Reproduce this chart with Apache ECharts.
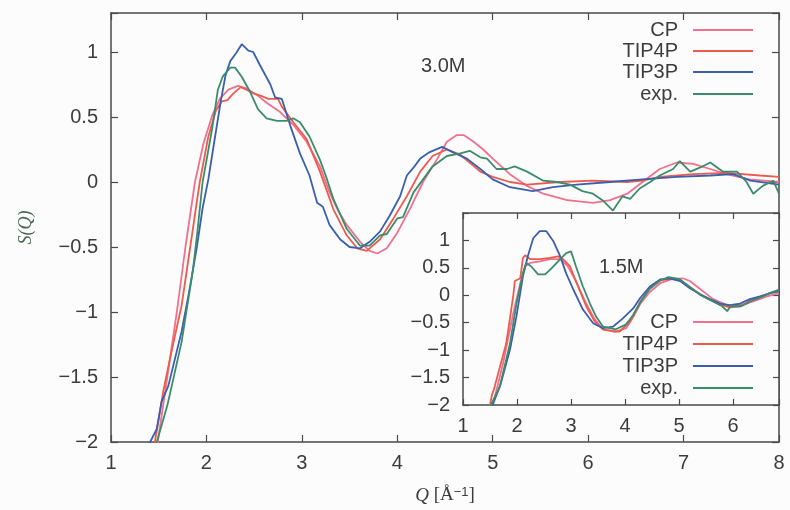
<!DOCTYPE html>
<html>
<head>
<meta charset="utf-8">
<script src="https://cdn.jsdelivr.net/npm/echarts@6/dist/echarts.min.js"></script>
<style>
  html, body { margin: 0; padding: 0; background: #fcfcfc; }
</style>
</head>
<body>
<div id="myChart" style="width:790px;height:510px"></div>
<script>
// S(Q), [Q, S]
// 3.0M (main panel)
const cp30 = [[1.44,-2.2],[1.49,-2.0],[1.59,-1.5],[1.69,-1.0],[1.78,-0.5],[1.88,0.0],[1.97,0.3],[2.06,0.51],[2.14,0.64],[2.23,0.71],[2.33,0.74],[2.42,0.72],[2.53,0.67],[2.63,0.61],[2.77,0.54],[2.91,0.44],[3.05,0.31],[3.19,0.12],[3.29,-0.08],[3.38,-0.22],[3.47,-0.33],[3.61,-0.46],[3.71,-0.53],[3.79,-0.55],[3.89,-0.51],[4.0,-0.39],[4.13,-0.21],[4.27,0.0],[4.42,0.18],[4.52,0.31],[4.62,0.36],[4.70,0.36],[4.80,0.31],[4.90,0.25],[5.0,0.18],[5.18,0.06],[5.36,-0.03],[5.53,-0.09],[5.78,-0.14],[6.05,-0.16],[6.23,-0.14],[6.41,-0.09],[6.57,0.0],[6.75,0.10],[6.93,0.15],[7.10,0.14],[7.28,0.10],[7.45,0.06],[7.69,0.02],[8.0,0.0]];
const tip4p30 = [[1.42,-2.2],[1.46,-2.0],[1.55,-1.6],[1.65,-1.25],[1.74,-0.95],[1.83,-0.5],[1.93,0.0],[2.02,0.35],[2.10,0.55],[2.16,0.62],[2.22,0.63],[2.28,0.68],[2.36,0.73],[2.42,0.71],[2.50,0.68],[2.58,0.66],[2.65,0.64],[2.75,0.64],[2.79,0.58],[2.91,0.46],[3.05,0.33],[3.19,0.08],[3.33,-0.21],[3.47,-0.41],[3.58,-0.51],[3.68,-0.53],[3.82,-0.44],[3.96,-0.28],[4.10,-0.11],[4.24,0.08],[4.37,0.2],[4.52,0.25],[4.66,0.21],[4.87,0.08],[5.0,0.04],[5.18,0.0],[5.36,-0.02],[5.70,0.0],[6.05,0.01],[6.41,0.0],[6.57,0.01],[6.75,0.04],[7.10,0.06],[7.45,0.07],[7.8,0.05],[8.0,0.04]];
const tip3p30 = [[1.39,-2.1],[1.41,-2.0],[1.48,-1.9],[1.53,-1.69],[1.60,-1.57],[1.74,-1.15],[1.82,-0.84],[1.90,-0.5],[1.96,-0.2],[2.02,0.02],[2.08,0.3],[2.15,0.62],[2.20,0.82],[2.25,0.93],[2.31,0.99],[2.37,1.06],[2.44,1.01],[2.49,1.00],[2.56,0.90],[2.67,0.75],[2.72,0.65],[2.79,0.64],[2.88,0.43],[2.98,0.22],[3.08,0.05],[3.16,-0.16],[3.22,-0.19],[3.29,-0.33],[3.40,-0.44],[3.50,-0.50],[3.61,-0.51],[3.71,-0.46],[3.82,-0.38],[3.92,-0.26],[4.03,-0.11],[4.10,0.05],[4.17,0.11],[4.24,0.18],[4.34,0.23],[4.47,0.27],[4.58,0.23],[4.73,0.18],[4.87,0.10],[5.0,0.02],[5.18,-0.04],[5.42,-0.07],[5.63,-0.04],[5.88,-0.02],[6.23,0.0],[6.57,0.02],[6.93,0.04],[7.28,0.05],[7.52,0.06],[7.7,0.01],[8.0,-0.02]];
const exp30 = [[1.45,-2.15],[1.48,-2.0],[1.59,-1.72],[1.74,-1.23],[1.86,-0.67],[1.91,-0.35],[1.96,0.0],[2.06,0.41],[2.12,0.71],[2.17,0.81],[2.25,0.88],[2.30,0.88],[2.37,0.81],[2.46,0.69],[2.54,0.56],[2.63,0.49],[2.74,0.47],[2.84,0.47],[2.91,0.49],[2.98,0.46],[3.08,0.35],[3.19,0.17],[3.25,0.05],[3.33,-0.13],[3.47,-0.36],[3.61,-0.49],[3.71,-0.49],[3.82,-0.41],[3.89,-0.40],[4.0,-0.28],[4.06,-0.27],[4.17,-0.08],[4.27,0.02],[4.37,0.12],[4.52,0.2],[4.66,0.22],[4.76,0.24],[4.87,0.19],[4.94,0.18],[5.04,0.10],[5.15,0.10],[5.23,0.12],[5.36,0.08],[5.53,0.01],[5.67,0.0],[5.81,-0.02],[5.94,-0.07],[6.05,-0.09],[6.15,-0.14],[6.26,-0.22],[6.36,-0.11],[6.44,-0.13],[6.54,-0.05],[6.65,0.0],[6.75,0.05],[6.89,0.10],[6.96,0.16],[7.07,0.08],[7.17,0.11],[7.28,0.15],[7.41,0.08],[7.56,0.08],[7.66,0.0],[7.73,-0.09],[7.83,-0.03],[7.94,0.01],[8.0,-0.09]];

// 1.5M (inset)
const cp15 = [[1.48,-2.2],[1.52,-2.0],[1.59,-1.85],[1.74,-1.25],[1.93,-0.33],[2.06,0.22],[2.15,0.53],[2.24,0.59],[2.43,0.62],[2.61,0.66],[2.80,0.66],[2.94,0.53],[3.09,0.26],[3.28,-0.15],[3.44,-0.44],[3.59,-0.62],[3.83,-0.66],[4.02,-0.6],[4.15,-0.4],[4.28,-0.16],[4.45,0.05],[4.65,0.22],[4.85,0.29],[5.07,0.31],[5.2,0.26],[5.33,0.16],[5.63,-0.07],[5.94,-0.2],[6.26,-0.15],[6.63,-0.02],[6.85,0.04]];
const tip4p15 = [[1.47,-2.2],[1.50,-2.0],[1.54,-1.80],[1.57,-1.72],[1.65,-1.43],[1.80,-0.88],[1.93,-0.01],[1.96,0.26],[2.06,0.31],[2.11,0.68],[2.15,0.73],[2.24,0.66],[2.43,0.66],[2.61,0.68],[2.76,0.71],[2.85,0.66],[2.98,0.53],[3.13,0.16],[3.28,-0.2],[3.44,-0.48],[3.59,-0.62],[3.78,-0.66],[3.90,-0.66],[4.09,-0.48],[4.28,-0.12],[4.46,0.14],[4.65,0.27],[4.85,0.30],[5.02,0.27],[5.2,0.15],[5.39,0.02],[5.57,-0.08],[5.76,-0.17],[5.94,-0.22],[6.13,-0.2],[6.31,-0.1],[6.5,-0.03],[6.69,0.04],[6.85,0.1]];
const tip3p15 = [[1.52,-2.2],[1.55,-2.0],[1.70,-1.61],[1.87,-0.99],[1.99,-0.38],[2.11,0.35],[2.20,0.71],[2.30,1.04],[2.42,1.17],[2.54,1.17],[2.67,0.99],[2.80,0.71],[2.91,0.4],[3.04,0.11],[3.22,-0.26],[3.41,-0.51],[3.59,-0.6],[3.78,-0.57],[3.96,-0.42],[4.15,-0.24],[4.28,-0.05],[4.46,0.16],[4.65,0.29],[4.83,0.31],[5.02,0.26],[5.20,0.13],[5.39,0.02],[5.57,-0.07],[5.76,-0.15],[5.94,-0.18],[6.13,-0.15],[6.31,-0.07],[6.5,-0.02],[6.69,0.04],[6.85,0.07]];
const exp15 = [[1.49,-2.2],[1.52,-2.0],[1.68,-1.67],[1.87,-0.88],[1.99,-0.15],[2.11,0.40],[2.17,0.59],[2.26,0.53],[2.39,0.38],[2.52,0.38],[2.63,0.48],[2.80,0.66],[2.91,0.77],[3.0,0.80],[3.09,0.53],[3.22,0.16],[3.35,-0.15],[3.46,-0.38],[3.59,-0.57],[3.83,-0.62],[4.02,-0.53],[4.15,-0.36],[4.30,-0.1],[4.46,0.12],[4.65,0.27],[4.8,0.33],[5.0,0.30],[5.2,0.15],[5.4,0.0],[5.6,-0.1],[5.8,-0.2],[5.89,-0.29],[5.95,-0.2],[6.15,-0.2],[6.35,-0.1],[6.55,-0.02],[6.7,0.05],[6.85,0.1]];

const seriesNames = ['CP', 'TIP4P', 'TIP3P', 'exp.'];
const seriesColors = ['#f0708d', '#ee5b4e', '#3a5fae', '#3a8c6b'];
const mainTicksX = [1, 2, 3, 4, 5, 6, 7, 8];
const mainTicksY = [-2, -1.5, -1, -0.5, 0, 0.5, 1];
const insetTicksX = [1, 2, 3, 4, 5, 6];
const insetTicksY = [-2, -1.5, -1, -0.5, 0, 0.5, 1];

const txt = '#3c3c3c';
const axisCol = '#4a4a4a';
const font = 'Liberation Sans, Arial, sans-serif';

// only print the labels that are in the tick list
function fmt(list) {
  return function (v) {
    for (const t of list) {
      if (Math.abs(t - v) < 1e-6) return String(t).replace('-', '\u2212');
    }
    return '';
  };
}

function axis(dim, grid, pos, min, max, ticks, showLabel, tickLen, z, extra) {
  return Object.assign({
    type: 'value', gridIndex: grid, position: pos, min: min, max: max, interval: dim === 'x' ? 1 : 0.5,
    z: z,
    axisLine: { show: true, onZero: false, lineStyle: { color: axisCol, width: 1.5 } },
    axisTick: { show: true, inside: true, length: tickLen, lineStyle: { color: axisCol, width: 1.2 } },
    axisLabel: { show: showLabel, formatter: fmt(ticks), color: txt, fontSize: 20, fontFamily: font,
                 margin: dim === 'x' ? 11 : 13 },
    splitLine: { show: false }
  }, extra || {});
}

const xAxes = [
  axis('x', 0, 'bottom', 1, 8, mainTicksX, true, 7, 0, {
    name: '{i|Q} [Å{s|\u22121}]', nameLocation: 'middle', nameGap: 44,
    nameTextStyle: { color: txt, fontSize: 19, fontFamily: 'Liberation Serif, serif',
      rich: { i: { fontStyle: 'italic', fontSize: 19, fontFamily: 'Liberation Serif, serif', color: txt },
              s: { fontSize: 13, verticalAlign: 'top', fontFamily: 'Liberation Sans, sans-serif', color: txt } } }
  }),
  axis('x', 0, 'top', 1, 8, mainTicksX, false, 7, 0),
  axis('x', 1, 'bottom', 1, 6.85, insetTicksX, true, 6, 4),
  axis('x', 1, 'top', 1, 6.85, insetTicksX, false, 6, 4)
];
const yAxes = [
  axis('y', 0, 'left', -2, 1.3, mainTicksY, true, 7, 0, {
    name: 'S(Q)', nameLocation: 'middle', nameGap: 76, nameRotate: 90,
    nameTextStyle: { color: '#4d6650', fontSize: 18, fontStyle: 'italic', fontFamily: 'Liberation Serif, serif' }
  }),
  axis('y', 0, 'right', -2, 1.3, mainTicksY, false, 7, 0),
  axis('y', 1, 'left', -2, 1.5, insetTicksY, true, 6, 4),
  axis('y', 1, 'right', -2, 1.5, insetTicksY, false, 6, 4)
];

const mainData = [cp30, tip4p30, tip3p30, exp30];
const insetData = [cp15, tip4p15, tip3p15, exp15];
const series = [];
seriesNames.forEach(function (n, i) {
  series.push({ name: n, type: 'line', xAxisIndex: 0, yAxisIndex: 0, data: mainData[i],
    symbol: 'none', z: 2, lineStyle: { color: seriesColors[i], width: 1.8 }, itemStyle: { color: seriesColors[i] } });
});
seriesNames.forEach(function (n, i) {
  series.push({ name: n, type: 'line', xAxisIndex: 2, yAxisIndex: 2, data: insetData[i],
    symbol: 'none', z: 5, lineStyle: { color: seriesColors[i], width: 1.8 }, itemStyle: { color: seriesColors[i] } });
});

// one legend per entry so each text is right aligned against its line sample
const legends = [];
const mainLegendY = [30, 51, 72, 94];
const insetLegendY = [322, 344, 366, 388];
function legendAt(name, cy) {
  return {
    data: [name], right: 37, top: cy - 10, padding: 0, z: 8,
    align: 'right', icon: 'rect', itemWidth: 60, itemHeight: 2, selectedMode: false,
    textStyle: { color: txt, fontSize: 20, fontFamily: font, lineHeight: 20, padding: [0, 10, 0, 0] }
  };
}
seriesNames.forEach(function (n, i) {
  legends.push(legendAt(n, mainLegendY[i]));
  legends.push(legendAt(n, insetLegendY[i]));
});

const chart = echarts.init(document.getElementById('myChart'));
chart.setOption({
  backgroundColor: '#fcfcfc',
  animation: false,
  title: [
    { text: '3.0M', left: 421, top: 56, padding: 0, z: 8,
      textStyle: { color: txt, fontSize: 20, fontWeight: 'normal', fontFamily: font } },
    { text: '1.5M', left: 599, top: 257, padding: 0, z: 8,
      textStyle: { color: txt, fontSize: 20, fontWeight: 'normal', fontFamily: font } }
  ],
  grid: [
    { left: 111, top: 13, right: 11, bottom: 67 },
    { left: 463, top: 213, right: 11, bottom: 105, show: true, backgroundColor: '#fcfcfc', borderWidth: 0, z: 3 }
  ],
  legend: legends,
  xAxis: xAxes,
  yAxis: yAxes,
  series: series
});
</script>
</body>
</html>
